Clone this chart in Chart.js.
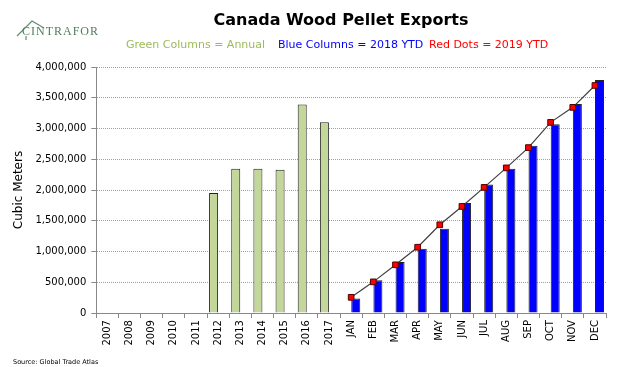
<!DOCTYPE html>
<html>
<head>
<meta charset="utf-8">
<script src="https://cdn.jsdelivr.net/npm/chart.js@4/dist/chart.umd.min.js"></script>
<style>
    body { margin: 0; background: #fff; }
    #chart-div { position: relative; width: 640px; height: 367px; }
</style>
</head>
<body>
<div id="chart-div"><canvas id="exportsChart"></canvas></div>
<script>
const YEARS = ["2007", "2008", "2009", "2010", "2011", "2012", "2013", "2014", "2015", "2016", "2017"];
const MONTHS = ["JAN", "FEB", "MAR", "APR", "MAY", "JUN", "JUL", "AUG", "SEP", "OCT", "NOV", "DEC"];
const ANNUAL = [null, null, null, null, null, 1950000, 2345000, 2345000, 2330000, 3390000, 3100000];
const YTD_2018 = [235000, 533000, 830000, 1045000, 1370000, 1790000, 2090000, 2345000, 2720000, 3070000, 3400000, 3790000];
const YTD_2019 = [256000, 507000, 784000, 1070000, 1435000, 1733000, 2043000, 2360000, 2690000, 3100000, 3344000, 3700000];
const Y_TICKS = [0, 500000, 1000000, 1500000, 2000000, 2500000, 3000000, 3500000, 4000000];

const EMPTY_YEARS = YEARS.map(() => null);
const EMPTY_MONTHS = MONTHS.map(() => null);

// title, colour key, logo and source note, drawn on the canvas around the chart
const headerText = {
    id: 'headerText',
    afterDraw(chart) {
        const ctx = chart.ctx;
        ctx.save();
        ctx.textBaseline = 'alphabetic';

        ctx.font = 'bold 16px "DejaVu Sans"';
        ctx.fillStyle = '#000';
        ctx.textAlign = 'center';
        ctx.fillText('Canada Wood Pellet Exports', 341, 25);

        ctx.font = '11px "DejaVu Sans"';
        ctx.textAlign = 'left';
        ctx.fillStyle = '#9bbb59';
        ctx.fillText('Green Columns = Annual', 126, 48);
        ctx.fillStyle = '#0000ff';
        ctx.fillText('Blue Columns = 2018 YTD', 278, 48);
        ctx.fillStyle = '#ff0000';
        ctx.fillText('Red Dots = 2019 YTD', 429, 48);

        ctx.strokeStyle = '#5f8f6f';
        ctx.lineWidth = 1.2;
        ctx.beginPath();
        ctx.moveTo(17, 36);
        ctx.lineTo(32, 21);
        ctx.lineTo(44, 28);
        ctx.moveTo(26, 36);
        ctx.lineTo(26, 40);
        ctx.stroke();
        ctx.font = '12px "Liberation Serif"';
        ctx.fillStyle = '#4f7f5f';
        ctx.fillText('C I N T R A F O R'.replace(/ /g, '\u200A'), 22, 35);

        ctx.font = '6.5px "DejaVu Sans"';
        ctx.fillStyle = '#000';
        ctx.fillText('Source: Global Trade Atlas', 13, 364);
        ctx.restore();
    }
};

function createChart() {
    var ctx = document.getElementById("exportsChart").getContext('2d');
    var exportsChart = new Chart(ctx, {
        type: 'bar',
        data: {
            labels: YEARS.concat(MONTHS),
            datasets: [
                {
                    type: 'line',
                    label: '2019 YTD',
                    data: EMPTY_YEARS.concat(YTD_2019),
                    borderColor: '#404040',
                    borderWidth: 1.2,
                    pointStyle: 'rect',
                    pointRadius: 4,
                    pointBackgroundColor: '#ff0000',
                    pointBorderColor: '#500000',
                    pointBorderWidth: 1,
                    order: 0
                },
                {
                    label: 'Annual',
                    data: ANNUAL.concat(EMPTY_MONTHS),
                    backgroundColor: '#c4d79b',
                    borderColor: '#222',
                    borderWidth: 1,
                    categoryPercentage: 0.83,
                    barPercentage: 0.98,
                    order: 1
                },
                {
                    label: '2018 YTD',
                    data: EMPTY_YEARS.concat(YTD_2018),
                    backgroundColor: '#0000ff',
                    borderColor: '#222',
                    borderWidth: 1,
                    categoryPercentage: 0.83,
                    barPercentage: 0.98,
                    order: 1
                }
            ]
        },
        options: {
            responsive: true,
            maintainAspectRatio: false,
            animation: false,
            layout: { padding: { top: 67, left: 12, right: 34, bottom: 19.5 } },
            plugins: {
                legend: { display: false },
                tooltip: { enabled: false }
            },
            scales: {
                x: {
                    grid: { drawOnChartArea: false, tickLength: 5, color: '#888' },
                    border: { color: '#888', width: 1 },
                    ticks: { color: '#000', font: { family: "DejaVu Sans", size: 10 }, minRotation: 90, maxRotation: 90, autoSkip: false, padding: 2 }
                },
                y: {
                    min: 0,
                    max: 4000000,
                    afterBuildTicks: (scale) => { scale.ticks = Y_TICKS.map(v => ({ value: v })); },
                    grid: { color: '#a0a0a0', tickLength: 5, tickColor: '#888' },
                    border: { color: '#888', width: 1, dash: [1, 1] },
                    ticks: {
                        color: '#000',
                        font: { family: "DejaVu Sans", size: 10 },
                        padding: 5,
                        callback: (v) => v.toLocaleString('en-US')
                    },
                    title: { display: true, text: 'Cubic Meters', color: '#000', font: { family: "DejaVu Sans", size: 12 }, padding: { top: 0, bottom: 4 } }
                }
            }
        },
        plugins: [headerText]
    });
    return exportsChart;
}

createChart();
</script>
</body>
</html>
